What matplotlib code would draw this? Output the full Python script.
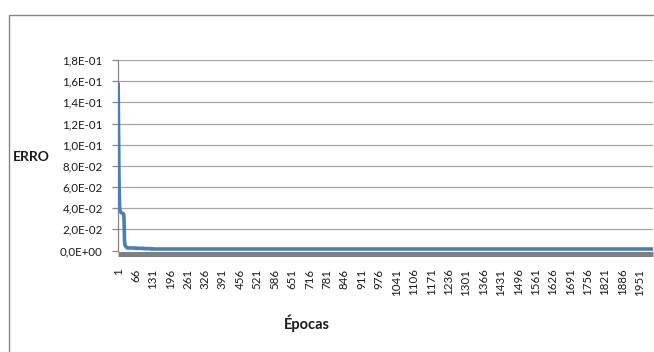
"""Excel-style training error curve: ERRO vs Épocas (2000 epochs)."""
import matplotlib
matplotlib.use("Agg")
import matplotlib.pyplot as plt
from matplotlib.patches import Rectangle
from matplotlib.transforms import ScaledTranslation

plt.rcParams["font.family"] = ["Lato", "DejaVu Sans"]

# error per epoch
err_start = [0.157, 0.125, 0.095, 0.072, 0.055, 0.045, 0.040, 0.038, 0.037, 0.0365,
             0.036, 0.036, 0.0358, 0.0356, 0.0355, 0.0353, 0.0352, 0.035, 0.035, 0.0348,
             0.0346, 0.0344, 0.030, 0.018, 0.009, 0.006, 0.005, 0.0045, 0.004, 0.0036,
             0.0033, 0.0031, 0.003, 0.0029, 0.0028]
err_mid = [0.0024] * 30 + [0.0021] * 30 + [0.0018] * 30   # slow settle to ~epoch 125
err_tail = [0.0014] * 1875                                 # flat until epoch 2000
erro = err_start + err_mid + err_tail
epocas = list(range(1, len(erro) + 1))

tick_epocas = list(range(1, 1952, 65))
y_ticks = [0.0, 0.02, 0.04, 0.06, 0.08, 0.10, 0.12, 0.14, 0.16, 0.18]
y_labels = ["0,0E+00", "2,0E-02", "4,0E-02", "6,0E-02", "8,0E-02",
            "1,0E-01", "1,2E-01", "1,4E-01", "1,6E-01", "1,8E-01"]

W, H = 654, 352
fig = plt.figure(figsize=(W / 100, H / 100), dpi=100)
fig.patch.set_facecolor("white")

# chart border (right/bottom fall outside the crop)
fig.patches.append(Rectangle((8.5 / W, -0.1), 1.2, 1 - 14.5 / H + 0.1,
                             transform=fig.transFigure, fill=False,
                             edgecolor="#868686", lw=1.0))

ax = fig.add_axes([118 / W, (H - 250.5) / H, (653 - 118) / W, 190.5 / H])
ax.set_ylim(0, 0.18)
ax.set_xlim(0.5, len(erro) + 0.5)

ax.grid(axis="y", color="#a6a6a6", lw=0.9)
ax.set_axisbelow(True)
for s in ("top", "right", "bottom"):
    ax.spines[s].set_visible(False)
ax.spines["left"].set_color("#868686")
ax.spines["left"].set_linewidth(0.9)

ax.plot(epocas, erro, color="#4a7ebb", lw=2.6, solid_joinstyle="round", zorder=3)

# grey floor under the category axis
floor = ax.transAxes + ScaledTranslation(0, -3 / 100, fig.dpi_scale_trans)
ax.plot([0, 1], [0, 0], transform=floor, color="#808080", lw=5 * 0.72,
        solid_capstyle="butt", clip_on=False, zorder=2)

ax.set_yticks(y_ticks)
ax.set_yticklabels(y_labels)
ax.tick_params(axis="y", length=4, width=0.9, color="#868686", pad=7,
               labelsize=8.3, labelcolor="#1a1a1a")
ax.set_xticks(tick_epocas)
ax.set_xticklabels([str(t) for t in tick_epocas], rotation=90)
ax.tick_params(axis="x", length=0, pad=13, labelsize=8.3, labelcolor="#1a1a1a")

fig.text(31 / W, 1 - 157 / H, "ERRO", ha="center", va="center",
         fontsize=10, fontweight="bold", color="#1a1a1a")
fig.text(307 / W, 1 - 323 / H, "Épocas", ha="center", va="center",
         fontsize=10.5, fontweight="bold", color="#1a1a1a")

fig.savefig("out.png", dpi=100)
